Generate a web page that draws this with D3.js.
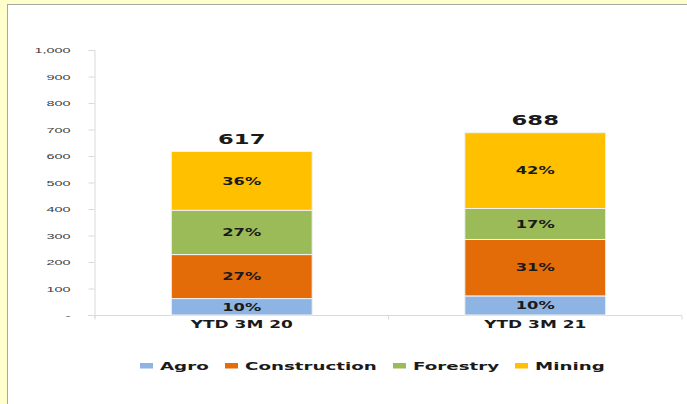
<!DOCTYPE html>
<html>
<head>
<meta charset="utf-8">
<script src="https://cdn.jsdelivr.net/npm/d3@7"></script>
<style>
  body { margin: 0; background: #ffffcc; }
  svg { display: block; font-family: "DejaVu Sans", Verdana, sans-serif; }
</style>
</head>
<body>
<div id="chart"></div>
<script>
const categories = ['YTD 3M 20', 'YTD 3M 21'];
const seriesNames = ['Agro', 'Construction', 'Forestry', 'Mining'];
const agro = [62, 72];
const construction = [166, 213];
const forestry = [167, 117];
const mining = [222, 286];
const totals = [617, 688];
const pctLabels = [['10%', '27%', '27%', '36%'], ['10%', '31%', '17%', '42%']];
const yTicks = [0, 100, 200, 300, 400, 500, 600, 700, 800, 900, 1000];
const colors = ['#8eb4e3', '#e36c09', '#9bbb59', '#ffc000'];

const width = 687, height = 404;
const svg = d3.select('#chart').append('svg')
    .attr('width', width)
    .attr('height', height);

// the original picture is stretched sideways, so text gets scale(sx,1)

// panel
svg.append('rect').attr('width', width).attr('height', height).attr('fill', '#ffffcc');
svg.append('rect')
    .attr('x', 7.5).attr('y', 4.5)
    .attr('width', width).attr('height', height)
    .attr('fill', '#fff')
    .attr('stroke', '#a6a6a6')
    .attr('stroke-width', 1);

const x = d3.scaleBand()
    .domain(categories)
    .range([95, 682])
    .paddingInner(0.52)
    .paddingOuter(0.26);

const y = d3.scaleLinear()
    .domain([0, 1000])
    .range([315, 50]);

// rows for stacking
const rows = categories.map((c, i) => ({
    cat: c,
    Agro: agro[i],
    Construction: construction[i],
    Forestry: forestry[i],
    Mining: mining[i]
}));
const stacked = d3.stack().keys(seriesNames)(rows);

// y axis
const yAxis = svg.append('g')
    .attr('transform', 'translate(94.5,0)')
    .call(d3.axisLeft(y).tickValues(yTicks).tickSize(6)
        .tickFormat(d => d === 0 ? '-' : d3.format(',')(d)));
yAxis.select('.domain').attr('stroke', '#d9d9d9').attr('d', 'M-6,50.5H0.5V318');
yAxis.selectAll('.tick line').attr('stroke', '#d9d9d9');
yAxis.selectAll('.tick text')
    .attr('x', null)
    .attr('dy', null)
    .attr('fill', '#404040')
    .attr('font-size', 7.8)
    .attr('transform', 'translate(-24,2.9) scale(1.85,1)');

// x axis
const xAxis = svg.append('g')
    .attr('transform', 'translate(0,315.5)');
xAxis.append('line')
    .attr('x1', 88).attr('x2', 682)
    .attr('stroke', '#d9d9d9');
const boundaries = [x.range()[0], (x(categories[0]) + x.bandwidth() + x(categories[1])) / 2, x.range()[1]];
xAxis.selectAll('.xt').data(boundaries).enter().append('line')
    .attr('x1', d => d).attr('x2', d => d)
    .attr('y1', 0).attr('y2', 4)
    .attr('stroke', '#d9d9d9');
xAxis.selectAll('.xl').data(categories).enter().append('text')
    .attr('transform', d => 'translate(' + (x(d) + x.bandwidth() / 2) + ',12) scale(1.7,1)')
    .attr('text-anchor', 'middle')
    .attr('font-size', 10)
    .attr('font-weight', 'bold')
    .attr('fill', '#1a1a1a')
    .text(d => d);

// bars
const layers = svg.append('g').selectAll('g')
    .data(stacked)
    .enter().append('g')
    .attr('fill', (d, i) => colors[i]);

layers.selectAll('rect')
    .data(d => d)
    .enter().append('rect')
    .attr('x', d => x(d.data.cat))
    .attr('y', d => y(d[1]))
    .attr('width', x.bandwidth())
    .attr('height', d => y(d[0]) - y(d[1]))
    .attr('stroke', '#f2f2f2')
    .attr('stroke-width', 1);

// percent labels
layers.each(function(layer, si) {
    d3.select(this).selectAll('text')
        .data(layer)
        .enter().append('text')
        .attr('transform', d => 'translate(' + (x(d.data.cat) + x.bandwidth() / 2) + ','
            + ((y(d[0]) + y(d[1])) / 2 + 3.8) + ') scale(1.58,1)')
        .attr('text-anchor', 'middle')
        .attr('font-size', 10.3)
        .attr('font-weight', 'bold')
        .attr('fill', '#1a1a1a')
        .text((d, i) => pctLabels[i][si]);
});

// totals
svg.append('g').selectAll('text')
    .data(categories)
    .enter().append('text')
    .attr('transform', (d, i) => 'translate(' + (x(d) + x.bandwidth() / 2) + ',' + (y(totals[i]) - 7.5) + ') scale(1.62,1)')
    .attr('text-anchor', 'middle')
    .attr('font-size', 14)
    .attr('font-weight', 'bold')
    .attr('fill', '#1a1a1a')
    .text((d, i) => totals[i]);

// legend
const legendX = [140, 225, 393, 515];
const legend = svg.append('g').selectAll('g')
    .data(seriesNames)
    .enter().append('g')
    .attr('transform', (d, i) => 'translate(' + legendX[i] + ',370)');
legend.append('rect')
    .attr('x', 0).attr('y', -7)
    .attr('width', 13).attr('height', 5.5)
    .attr('fill', (d, i) => colors[i]);
legend.append('text')
    .attr('transform', 'translate(20,0) scale(1.66,1)')
    .attr('font-size', 11)
    .attr('font-weight', 'bold')
    .attr('fill', '#1a1a1a')
    .text(d => d);
</script>
</body>
</html>
